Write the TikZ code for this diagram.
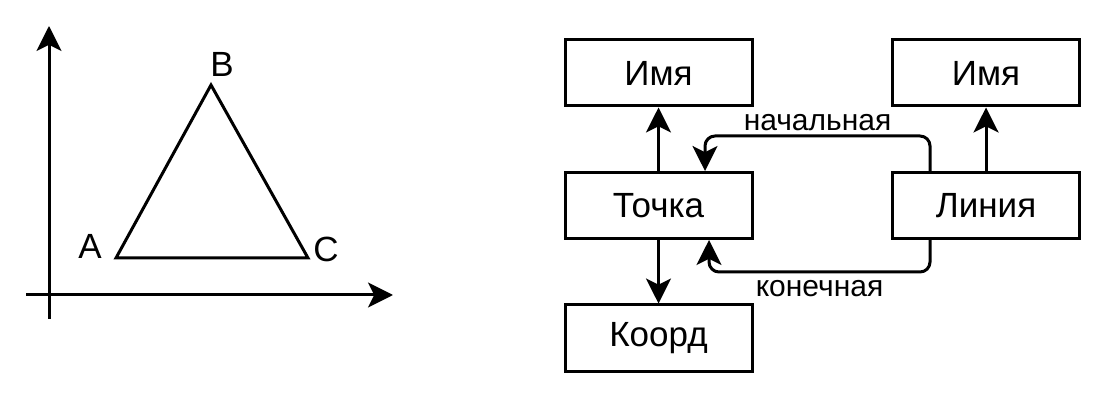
\documentclass[tikz,border=0pt]{standalone}
\usepackage{fontspec}
\setmainfont{Liberation Sans}
\usetikzlibrary{arrows.meta,positioning}

\begin{document}
\begin{tikzpicture}[x=0.4pt, y=-0.4pt, node distance=53pt]
  \tikzstyle{entity} = [rectangle, draw, line width=1.2pt, minimum width=74.8pt, minimum height=26.4pt,
                        inner sep=0pt, font=\fontsize{14}{16}\selectfont]
  \tikzstyle{link} = [line width=1.2pt, -{Stealth[length=10pt, width=10pt, inset=2.5pt]}]
  \tikzstyle{role} = [font=\fontsize{12}{14}\selectfont]
  \tikzstyle{vertex} = [font=\fontsize{14}{16}\selectfont]
\useasboundingbox (0,0) rectangle (1103,404);

\coordinate (ybot) at (49,319);
\coordinate (ytop) at (49,26);
\coordinate (xleft) at (26,295);
\coordinate (xright) at (393,295);
\draw[link] (ybot) -- (ytop);
\draw[link] (xleft) -- (xright);

\coordinate (A) at (116,258);
\coordinate (B) at (211,85);
\coordinate (C) at (308,258);
\draw[line width=1.2pt] (A) -- (B) -- (C) -- cycle;
\node[vertex] (labA) at (90,246) {A};
\node[vertex] (labB) at (222,64) {B};
\node[vertex] (labC) at (326,249) {C};

\node[entity] (tochka) at (658.5,205.5) {Точка};
\node[entity, above of=tochka] (imya1) {Имя};
\node[entity, below of=tochka] (koord) {Коорд};
\node[entity, right of=tochka, xshift=78pt] (liniya) {Линия};
\node[entity, above of=liniya] (imya2) {Имя};
\draw[link] (tochka) -- (imya1);
\draw[link] (tochka) -- (koord);
\draw[link] (liniya) -- (imya2);
\draw[link, rounded corners=4pt] ([xshift=-22.4pt]liniya.north) -- ++(0,14pt) -| ([xshift=18.6pt]tochka.north)
    node[role, pos=0.25, above=-2pt] (start) {начальная};
\draw[link, rounded corners=4pt] ([xshift=-22.4pt]liniya.south) -- ++(0,-12.8pt) -| ([xshift=20.2pt]tochka.south)
    node[role, pos=0.25, below=-0.5pt] (end) {конечная};
\end{tikzpicture}
\end{document}
